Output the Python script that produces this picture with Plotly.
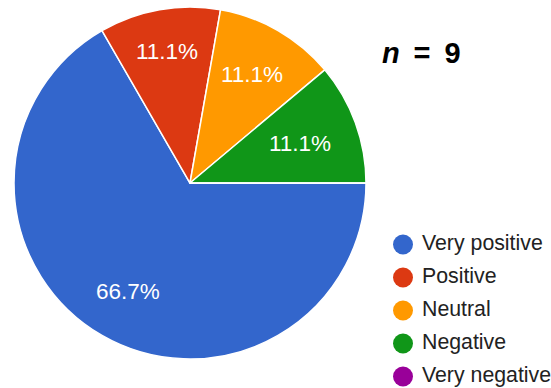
import math
import plotly.graph_objects as go

# Survey response breakdown
categories = ["Very positive", "Positive", "Neutral", "Negative", "Very negative"]
counts = [6, 1, 1, 1, 0]
colors = ["#3366cc", "#dc3912", "#ff9900", "#109618", "#990099"]
sample_label = "<b><i>n</i> \u2009= \u20099</b>"

W, H = 551, 388
FONT = "Liberation Sans, Arial, sans-serif"

# pie placement in pixels
cx, cy, R = 190, 183, 176
start_deg = 90  # first slice begins at 3 o'clock, runs clockwise

fig = go.Figure()
fig.add_trace(go.Pie(
    labels=categories,
    values=counts,
    marker=dict(colors=colors, line=dict(color="white", width=1.5)),
    sort=False,
    direction="clockwise",
    rotation=start_deg,
    textinfo="none",
    hoverinfo="label+percent",
    showlegend=False,
    domain=dict(x=[(cx - R) / W, (cx + R) / W], y=[(H - cy - R) / H, (H - cy + R) / H]),
))

# approximate Arial advance widths (em) for label text
ADV = {**{d: 0.556 for d in "0123456789"}, ".": 0.278, "%": 0.889}
LABEL_SIZE = 22.5


def text_box(s, size):
    return sum(ADV.get(ch, 0.556) for ch in s) * size / 2, 0.72 * size / 2


# percentage labels: pushed out along the mid-angle until the far corner
# of the text box sits at 85% of the radius
total = sum(counts)
cum = 0
annotations = []
for v in counts:
    if v > 0:
        label = f"{100 * v / total:.1f}%"
        hw, hh = text_box(label, LABEL_SIZE)
        mid = math.radians(start_deg + 360 * (cum + v / 2) / total)
        s, c = math.sin(mid), -math.cos(mid)
        b = abs(s) * hw + abs(c) * hh
        lim = 0.85 * R
        d = -b + math.sqrt(b * b - (hw * hw + hh * hh - lim * lim))
        px, py = cx + d * s, cy + d * c
        annotations.append(dict(
            x=px / W, y=(H - py) / H, xref="paper", yref="paper",
            text=label, showarrow=False,
            font=dict(family=FONT, size=LABEL_SIZE, color="white"),
            xanchor="center", yanchor="middle",
        ))
    cum += v

annotations.append(dict(
    x=421 / W, y=(H - 53) / H, xref="paper", yref="paper",
    text=sample_label, showarrow=False,
    font=dict(family=FONT, size=29, color="black"),
    xanchor="center", yanchor="middle",
))

# legend drawn as a marker column with labels
idx = list(range(len(categories)))
fig.add_trace(go.Scatter(
    x=[0] * len(categories), y=idx,
    mode="markers",
    marker=dict(color=colors, size=20),
    hoverinfo="skip", showlegend=False, cliponaxis=False,
))
fig.add_trace(go.Scatter(
    x=[19] * len(categories), y=idx,
    mode="text",
    text=categories, textposition="middle right",
    textfont=dict(family=FONT, size=21.3, color="#222222"),
    hoverinfo="skip", showlegend=False, cliponaxis=False,
))

row = 33
top = 244.5
fig.update_layout(
    width=W, height=H,
    margin=dict(l=0, r=0, t=0, b=0),
    paper_bgcolor="white", plot_bgcolor="rgba(0,0,0,0)",
    annotations=annotations,
    xaxis=dict(range=[-403, W - 403], visible=False, fixedrange=True),
    yaxis=dict(range=[(H - top) / row, -top / row], visible=False, fixedrange=True),
    font=dict(family=FONT),
)

fig.write_html("out.html")
